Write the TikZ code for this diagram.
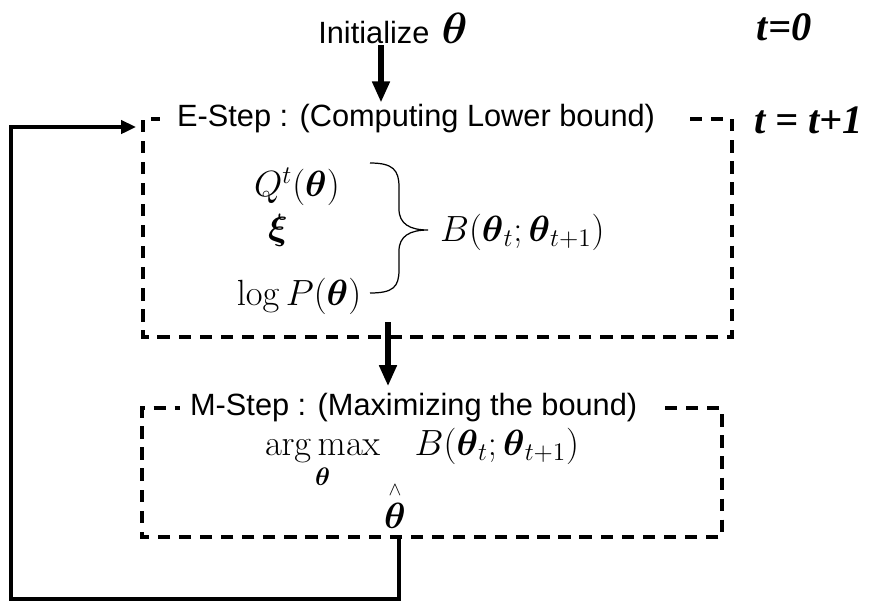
\documentclass[tikz,border=0pt]{standalone}
\usepackage{amsmath}
\usepackage{amssymb}
\usepackage[no-math]{fontspec}
\setmainfont{Liberation Sans}
\newfontfamily\serifit{Liberation Serif}
\usepackage{tikz}
\usetikzlibrary{positioning,arrows.meta,calc}
\definecolor{ink}{HTML}{000000}

\begin{document}
\begin{tikzpicture}[
  x=0.02cm, y=-0.02cm,
  every node/.style={inner sep=1pt, text=ink},
  steptitle/.style={font=\fontsize{17.5}{21}\selectfont, anchor=west},
  mathlbl/.style={font=\fontsize{21.5}{26}\selectfont},
  tlbl/.style={font=\fontsize{23}{27}\selectfont\serifit\bfseries\itshape},
  dashbox/.style={draw=ink, line width=2.3pt, dash pattern=on 7pt off 5pt},
  flow/.style={-{Triangle[length=12pt, width=9.5pt]}, line width=3.1pt, draw=ink},
  back/.style={-{Triangle[length=8.5pt, width=7.5pt]}, line width=2.3pt, draw=ink},
  curl/.style={draw=ink, line width=0.7pt},
]
\useasboundingbox (0,0) rectangle (870,603);

% Start: initialize theta, iteration counters on the right
\node[font=\fontsize{17.5}{21}\selectfont] (init) at (393,28)
  {Initialize\hspace{7pt}{\fontsize{28}{30}\selectfont$\boldsymbol{\theta}$}};
\node[tlbl] (tzero) at (784,27) {t=0};
\node[tlbl, anchor=west] (tnext) at (752,120) {t = t+1};

% E-step box
\node[steptitle] (etitle) at (175,119) {E-Step : (Computing Lower bound)};
\coordinate (Enw) at (143,119);
\coordinate (Ese) at (732,337);
\draw[dashbox] (690,119) -- (Ese |- Enw) -- (Ese) -- (Enw |- Ese) -- (Enw) -- (160,119);

\node[mathlbl] (qt)   at (297,187) {$Q^{t}(\boldsymbol{\theta})$};
\node[mathlbl] (xi)   at (278,230) {$\boldsymbol{\xi}$};
\node[mathlbl] (logp) at (299,296) {$\log P(\boldsymbol{\theta})$};
\node[mathlbl, anchor=west] (bound) at (438,232)
  {$B(\boldsymbol{\theta}_t;\boldsymbol{\theta}_{t+1})$};

% brace gathering the three terms
\draw[curl] (370,163) .. controls (393,163) and (399,170) .. (399,187) -- (399,209)
  .. controls (399,224) and (410,230) .. (428,230)
  .. controls (410,230) and (399,236) .. (399,251) -- (399,270)
  .. controls (399,287) and (393,293) .. (370,293);

% M-step box
\node[steptitle] (mtitle) at (188,408) {M-Step : (Maximizing the bound)};
\coordinate (Mnw) at (142,408);
\coordinate (Mse) at (722,537);
\draw[dashbox] (665,408) -- (Mse |- Mnw) -- (Mse) -- (Mnw |- Mse) -- (Mnw) -- (180,408);

\node[mathlbl, anchor=base] (argmax) at (422,455)
  {$\mathop{\mathrm{arg\,max}}\limits_{\boldsymbol{\theta}}\mkern14mu B(\boldsymbol{\theta}_t;\boldsymbol{\theta}_{t+1})$};
\node[mathlbl] (thetahat) at (395,505)
  {$\overset{\scriptscriptstyle\wedge}{\boldsymbol{\theta}}$};

% Down arrows: init -> E-step -> M-step
\draw[flow] ([xshift=-0.24cm]init.south) -- ([xshift=-0.24cm]init.south |- etitle.north);
\coordinate (edrop) at (388,322);
\draw[flow, shorten >=3pt] (edrop) -- (edrop |- mtitle.north);

% Feedback loop: theta-hat back into the E-step
\coordinate (mout) at (399,537);
\coordinate (loopbl) at (11,599);
\coordinate (ein) at (136,127);
\draw[back] (mout) -- (mout |- loopbl) -- (loopbl) |- (ein);
\end{tikzpicture}
\end{document}
